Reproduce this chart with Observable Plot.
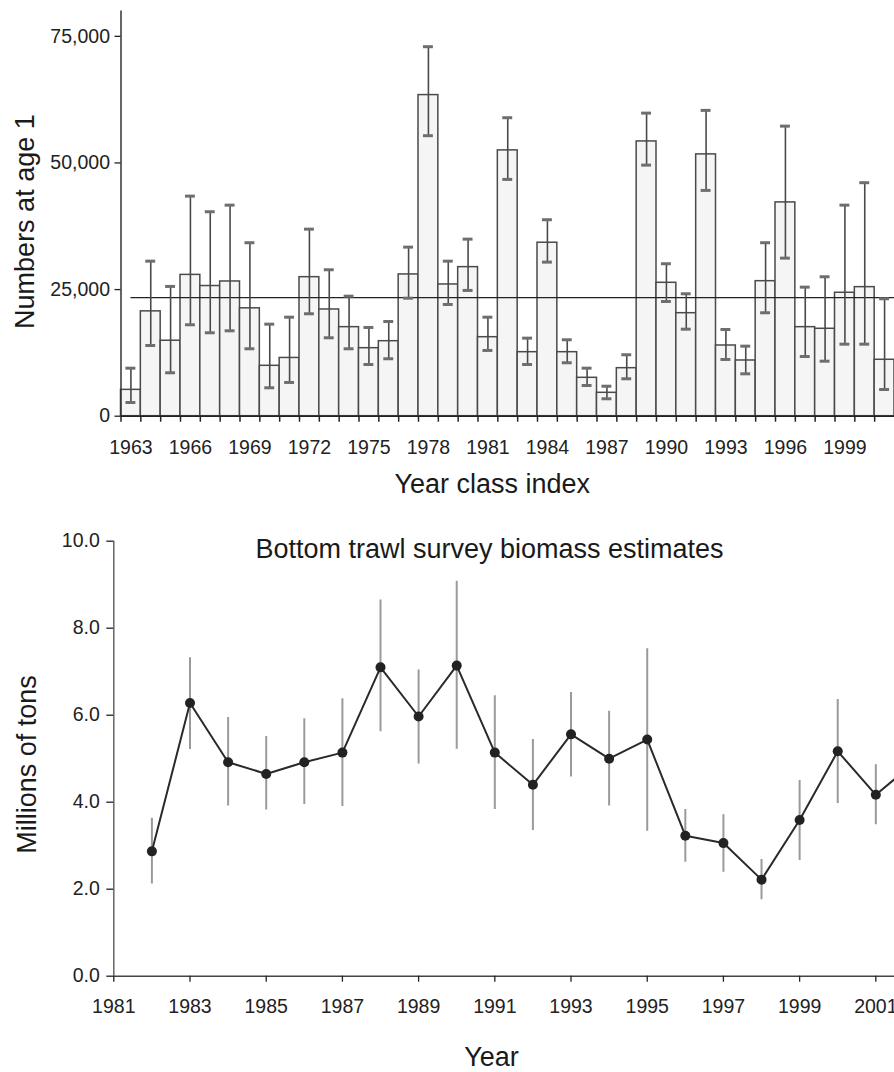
<!DOCTYPE html>
<html><head><meta charset="utf-8">
<script src="https://cdn.jsdelivr.net/npm/d3@7"></script>
<script src="https://cdn.jsdelivr.net/npm/@observablehq/plot@0.6"></script>
<style>
body{margin:0;background:#fff;}
#chart{width:894px;}
#chart svg{display:block;}
</style></head><body><div id="chart"></div>
<script>
// ---- Top panel: year class index (numbers at age 1) ----
const yearClassYears = [1963,1964,1965,1966,1967,1968,1969,1970,1971,1972,1973,1974,1975,1976,1977,1978,1979,1980,1981,1982,1983,1984,1985,1986,1987,1988,1989,1990,1991,1992,1993,1994,1995,1996,1997,1998,1999,2000,2001];
const numbersAtAge1 = [5200,20700,14900,27900,25700,26600,21300,9950,11500,27450,21070,17580,13430,14810,27990,63400,26010,29430,15600,52480,12640,34250,12640,7580,4620,9480,54250,26340,20340,51690,13960,11000,26660,42210,17580,17260,24370,25480,11140];
const numbersLow = [2700,13960,8570,18050,16470,16860,13310,5610,6660,20220,15480,13310,10210,11340,23300,55380,22060,24830,12980,46750,10210,30420,10550,6060,3440,7390,49570,22650,17180,44580,11200,8370,20420,31210,11790,10860,14220,14220,5270];
const numbersHigh = [9480,30610,25620,43450,40370,41670,34250,18170,19550,36930,28910,23700,17520,18700,33380,72950,30610,34960,19550,58930,15410,38790,15090,9480,5920,12130,59840,30100,24170,60380,17120,13830,34250,57270,25480,27530,41670,46100,23190];
const yearClassMean = 23400;
const yearClassTickLabels = [1963,1966,1969,1972,1975,1978,1981,1984,1987,1990,1993,1996,1999];
const numbersTicks = [0,25000,50000,75000];

// ---- Bottom panel: bottom trawl survey biomass ----
const surveyYears = [1982,1983,1984,1985,1986,1987,1988,1989,1990,1991,1992,1993,1994,1995,1996,1997,1998,1999,2000,2001,2002];
const biomass = [2.87,6.28,4.92,4.65,4.92,5.14,7.10,5.97,7.14,5.14,4.40,5.56,5.00,5.44,3.23,3.06,2.22,3.59,5.17,4.17,4.90];
const biomassLow = [2.12,5.21,3.91,3.82,3.95,3.90,5.62,4.88,5.22,3.83,3.35,4.58,3.91,3.33,2.62,2.39,1.76,2.66,3.97,3.48,null];
const biomassHigh = [3.63,7.32,5.95,5.51,5.92,6.38,8.65,7.04,9.08,6.45,5.44,6.52,6.09,7.53,3.83,3.71,2.68,4.50,6.36,4.86,null];
const surveyTickYears = [1981,1983,1985,1987,1989,1991,1993,1995,1997,1999,2001];
const biomassTicks = [0,2,4,6,8,10];

const FONT = "'Liberation Sans', Arial, Helvetica, sans-serif";

const classData = yearClassYears.map((year, i) => ({year, value: numbersAtAge1[i], low: numbersLow[i], high: numbersHigh[i]}));
const boundaries = yearClassYears.map(y => y - 0.5);

const topChart = Plot.plot({
  width: 894, height: 505,
  marginLeft: 120.5, marginRight: 0, marginTop: 10.5, marginBottom: 89.3,
  style: {fontFamily: FONT, fontSize: "19.5px", color: "#222", background: "transparent"},
  x: {domain: [1962.5, 2001.5], axis: null},
  y: {domain: [0, 80000], axis: null},
  marks: [
    Plot.rect(classData, {x1: d => d.year - 0.5, x2: d => d.year + 0.5, y1: 0, y2: "value", fill: "#f5f5f5", stroke: "#4a4a4a", strokeWidth: 1.5}),
    Plot.ruleY([yearClassMean], {x1: 1963, x2: 2001.5, stroke: "#222", strokeWidth: 1.2}),
    Plot.ruleX(classData, {x: "year", y1: "low", y2: "high", stroke: "#4a4a4a", strokeWidth: 1.6}),
    Plot.ruleY(classData, {y: "high", x1: d => d.year - 0.25, x2: d => d.year + 0.25, stroke: "#6e6e6e", strokeWidth: 3}),
    Plot.ruleY(classData, {y: "low", x1: d => d.year - 0.25, x2: d => d.year + 0.25, stroke: "#6e6e6e", strokeWidth: 3}),
    Plot.ruleX([1962.5], {stroke: "#333", strokeWidth: 1.5}),
    Plot.ruleY([0], {stroke: "#222", strokeWidth: 1.6}),
    Plot.axisY({ticks: numbersTicks, tickFormat: d3.format(","), tickSize: 6, tickPadding: 5, fontSize: 19.5, strokeWidth: 1.3, label: null}),
    Plot.axisX({ticks: boundaries, tickSize: 6, tickFormat: () => "", strokeWidth: 1.5, label: null}),
    Plot.axisX({ticks: yearClassTickLabels, tickSize: 0, tickPadding: 23.5, fontSize: 19.5, tickFormat: d => String(d), label: null}),
    Plot.text(["Numbers at age 1"], {frameAnchor: "left", rotate: -90, dx: -95.8, dy: 8, fontSize: 27, lineAnchor: "middle", textAnchor: "middle", fill: "#1a1a1a"}),
    Plot.text(["Year class index"], {frameAnchor: "bottom", dx: -15.5, dy: 68.3, fontSize: 27, lineAnchor: "middle", textAnchor: "middle", fill: "#1a1a1a"})
  ]
});

const survey = surveyYears.map((year, i) => ({year, value: biomass[i], low: biomassLow[i], high: biomassHigh[i]}));
const surveyErr = survey.filter(d => d.low != null && d.high != null);

const bottomChart = Plot.plot({
  width: 894, height: 567,
  marginLeft: 113.3, marginRight: 0, marginTop: 35.7, marginBottom: 96.3,
  style: {fontFamily: FONT, fontSize: "19.5px", color: "#222", background: "transparent"},
  x: {domain: [1981, 2001.49], axis: null},
  y: {domain: [0, 10], axis: null},
  marks: [
    Plot.ruleX(surveyErr, {x: "year", y1: "low", y2: "high", stroke: "#9a9a9a", strokeWidth: 2, clip: true}),
    Plot.line(survey, {x: "year", y: "value", stroke: "#2a2a2a", strokeWidth: 2, clip: true}),
    Plot.dot(survey, {x: "year", y: "value", r: 5, fill: "#222", stroke: "none", clip: true}),
    Plot.ruleX([1981], {stroke: "#666", strokeWidth: 1.5}),
    Plot.ruleY([0], {stroke: "#444", strokeWidth: 1.6}),
    Plot.axisY({ticks: biomassTicks, tickFormat: d3.format(".1f"), tickSize: 7, tickPadding: 7, fontSize: 19.5, strokeWidth: 1.3, label: null}),
    Plot.axisX({ticks: surveyTickYears, tickSize: 6, tickPadding: 16.5, fontSize: 19.5, tickFormat: d => String(d), strokeWidth: 1.3, label: null}),
    Plot.text(["Bottom trawl survey biomass estimates"], {frameAnchor: "top", dx: -14.6, dy: 7.7, fontSize: 27, lineAnchor: "middle", textAnchor: "middle", fill: "#1a1a1a"}),
    Plot.text(["Millions of tons"], {frameAnchor: "left", rotate: -90, dx: -86.9, dy: 5.8, fontSize: 27, lineAnchor: "middle", textAnchor: "middle", fill: "#1a1a1a"}),
    Plot.text(["Year"], {frameAnchor: "bottom", dx: -12.6, dy: 80.7, fontSize: 27, lineAnchor: "middle", textAnchor: "middle", fill: "#1a1a1a"})
  ]
});

const root = document.getElementById("chart");
root.appendChild(topChart);
root.appendChild(bottomChart);
</script>
</body></html>
